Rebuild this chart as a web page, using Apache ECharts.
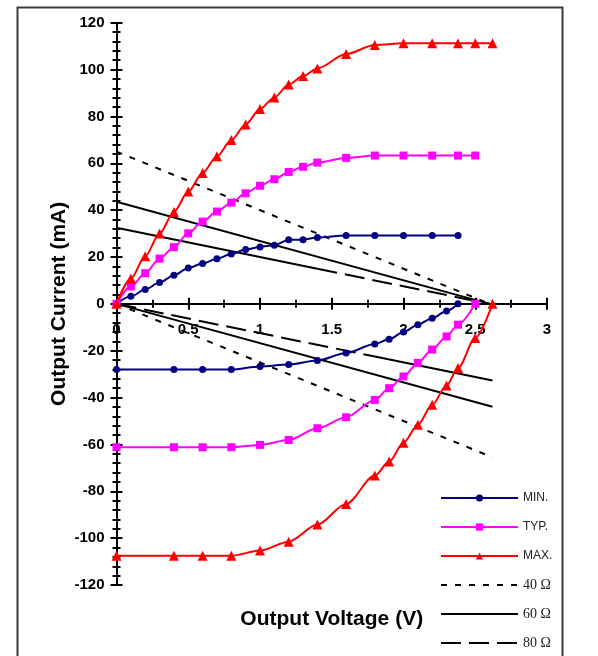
<!DOCTYPE html>
<html>
<head>
<meta charset="utf-8">
<script src="https://cdn.jsdelivr.net/npm/echarts@6/dist/echarts.min.js"></script>
<style>
html, body { margin: 0; padding: 0; background: #fff; }
#chart { width: 598px; height: 656px; }
</style>
</head>
<body>
<div id="chart"></div>
<script>
'use strict';

// voltages where the curves were measured (V)
var posVolts = [0, 0.1, 0.2, 0.3, 0.4, 0.5, 0.6, 0.7, 0.8, 0.9, 1.0, 1.1, 1.2, 1.3, 1.4, 1.6, 1.8, 2.0, 2.2, 2.38, 2.5, 2.62];
var negVolts = [0, 0.4, 0.6, 0.8, 1.0, 1.2, 1.4, 1.6, 1.8, 1.9, 2.0, 2.1, 2.2, 2.3, 2.38, 2.5, 2.62];

// output current, mA (pull-up side)
var minPos = [0, 3.2, 6.1, 9.1, 12.2, 15.3, 17.2, 19.3, 21.3, 23.2, 24.3, 25.0, 27.4, 27.4, 28.3, 29.2, 29.2, 29.2, 29.2, 29.2];
var typPos = [0, 7.4, 13.1, 19.3, 24.2, 30.1, 35.1, 39.4, 43.2, 47.2, 50.4, 53.2, 56.3, 58.5, 60.3, 62.3, 63.3, 63.3, 63.3, 63.3, 63.3];
var maxPos = [0, 10.8, 20.3, 30.0, 39.2, 47.9, 55.9, 63.0, 69.9, 76.6, 83.2, 88.1, 93.6, 97.2, 100.5, 106.6, 110.5, 111.2, 111.2, 111.2, 111.2, 111.2];

// output current, mA (pull-down side)
var minNeg = [-28, -28, -28, -28, -26.7, -25.9, -24.2, -21.0, -17.1, -15.1, -12.0, -8.9, -6.1, -3.1, 0];
var typNeg = [-61.2, -61.2, -61.2, -61.2, -60.2, -58.1, -53.1, -48.4, -41.0, -36.0, -31.0, -25.2, -19.5, -13.9, -8.9, 0];
var maxNeg = [-107.5, -107.5, -107.5, -107.5, -105.3, -101.5, -94.2, -85.4, -73.3, -67.3, -59.3, -51.6, -43.1, -34.8, -27.4, -14.6, 0];

// load lines [V, mA]
var load40Pos = [[0, 65], [2.6, 0]];
var load40Neg = [[0, 0], [2.62, -65.5]];
var load60Pos = [[0, 43.6], [2.6, 0]];
var load60Neg = [[0, 0], [2.62, -43.9]];
var load80PosA = [[0, 32.5], [1.4, 15.0]];
var load80PosB = [[1.4, 15.0], [2.6, 0]];
var load80NegA = [[0, 0], [1.8, -22.5]];
var load80NegB = [[1.8, -22.5], [2.62, -32.7]];

var legendNames = ['MIN.', 'TYP.', 'MAX.', '40 Ω', '60 Ω', '80 Ω'];

function pairs(xs, ys) {
    return ys.map(function (y, i) { return [xs[i], y]; });
}

var font = 'Liberation Sans, Arial, sans-serif';
var gridTop = 22.7, gridBottom = 71;
// x axis sits on y = 0, which is the middle of the -120..120 range
var xShift = -(656 - gridTop - gridBottom) / 2;

function curve(name, color, symbol, size, data) {
    return {
        name: name, type: 'line', data: data,
        symbol: symbol, symbolSize: size,
        smooth: 0.3, smoothMonotone: 'x',
        itemStyle: { color: color },
        lineStyle: { color: color, width: 2 },
        z: 5
    };
}

function load(name, dash, data) {
    return {
        name: name, type: 'line', data: data,
        symbol: 'none',
        itemStyle: { color: '#000', opacity: 0 },
        lineStyle: { color: '#000', width: 2, type: dash },
        z: 3
    };
}

function baseX(inside) {
    return {
        type: 'value', min: 0, max: 3, interval: 0.5,
        position: 'bottom', offset: xShift,
        axisLine: { show: !inside, onZero: false, lineStyle: { color: '#000', width: 2 } },
        axisTick: { show: true, inside: inside, length: 6, lineStyle: { color: '#000', width: 2 } },
        minorTick: { show: true, splitNumber: 2, length: 4, lineStyle: { color: '#000', width: 2 } },
        splitLine: { show: false },
        axisLabel: { show: !inside, margin: 19, color: '#000', fontWeight: 'bold', fontSize: 15, fontFamily: font }
    };
}

function baseY(inside) {
    return {
        type: 'value', min: -120, max: 120, interval: 20,
        position: 'left',
        axisLine: { show: !inside, onZero: false, lineStyle: { color: '#000', width: 2 } },
        axisTick: { show: true, inside: inside, length: 6, lineStyle: { color: '#000', width: 2 } },
        minorTick: { show: true, splitNumber: 5, length: 4, lineStyle: { color: '#000', width: 2 } },
        splitLine: { show: false },
        axisLabel: { show: !inside, margin: 12, color: '#000', fontWeight: 'bold', fontSize: 15, fontFamily: font }
    };
}

var xMain = baseX(false);
xMain.name = 'Output Voltage (V)';
xMain.nameLocation = 'middle';
xMain.nameGap = 305;
xMain.nameMoveOverlap = false;
xMain.nameTextStyle = { color: '#000', fontWeight: 'bold', fontSize: 21, fontFamily: font };

var yMain = baseY(false);
yMain.name = 'Output Current (mA)';
yMain.nameLocation = 'middle';
yMain.nameGap = 47;
yMain.nameMoveOverlap = false;
yMain.nameTextStyle = { color: '#000', fontWeight: 'bold', fontSize: 21, fontFamily: font };

var option = {
    animation: false,
    backgroundColor: '#fff',
    grid: { left: 116.5, right: 51, top: gridTop, bottom: gridBottom, outerBoundsMode: 'none' },
    xAxis: [xMain, baseX(true)],
    yAxis: [yMain, baseY(true)],
    legend: {
        orient: 'vertical',
        left: 440, top: 491, padding: 0,
        itemWidth: 77, itemHeight: 9, itemGap: 15,
        selectedMode: false,
        data: legendNames,
        formatter: function (name) {
            return name.indexOf('Ω') >= 0 ? '{s|' + name + '}' : name;
        },
        textStyle: {
            fontFamily: font, fontSize: 12, lineHeight: 14, color: '#222',
            rich: { s: { fontFamily: 'Liberation Serif, serif', fontSize: 14, lineHeight: 14, color: '#222' } }
        }
    },
    graphic: [{
        type: 'rect', left: 15, top: 5, silent: true,
        shape: { width: 545, height: 650 },
        style: { fill: null, stroke: '#3a3a3a', lineWidth: 2 }
    }],
    series: [
        load('40 Ω', [6, 8], load40Pos),
        load('40 Ω', [6, 8], load40Neg),
        load('60 Ω', 'solid', load60Pos),
        load('60 Ω', 'solid', load60Neg),
        load('80 Ω', [20, 8], load80PosB),
        load('80 Ω', 'solid', load80PosA),
        load('80 Ω', [20, 8], load80NegA),
        load('80 Ω', 'solid', load80NegB),
        curve('MIN.', '#000080', 'circle', 7, pairs(posVolts, minPos)),
        curve('MIN.', '#000080', 'circle', 7, pairs(negVolts, minNeg)),
        curve('TYP.', '#ff00ff', 'rect', 8, pairs(posVolts, typPos)),
        curve('TYP.', '#ff00ff', 'rect', 8, pairs(negVolts, typNeg)),
        curve('MAX.', '#ff0000', 'triangle', 10, pairs(posVolts, maxPos)),
        curve('MAX.', '#ff0000', 'triangle', 10, pairs(negVolts, maxNeg))
    ]
};

var myChart = echarts.init(document.getElementById('chart'));
myChart.setOption(option);
</script>
</body>
</html>
